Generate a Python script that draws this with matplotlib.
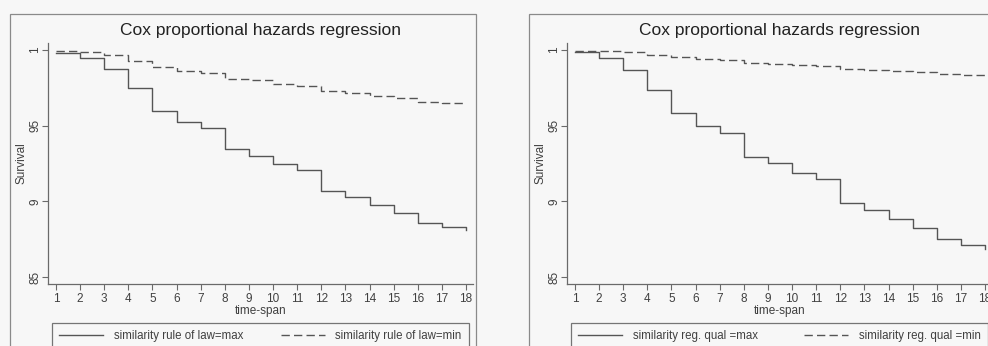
import matplotlib
matplotlib.use("Agg")
import matplotlib.pyplot as plt
from matplotlib.patches import Rectangle

# ---- data ----
time_points = list(range(1, 19))
xtick_labels = [str(t) for t in time_points]
ytick_values = [0.85, 0.9, 0.95, 1.0]
ytick_labels = ["85", "9", "95", "1"]

left_max = [0.9982, 0.9945, 0.9872, 0.9750, 0.9600, 0.9524, 0.9484, 0.9344, 0.9300,
            0.9247, 0.9207, 0.9070, 0.9027, 0.8976, 0.8925, 0.8857, 0.8828, 0.8810]
left_min = [0.9993, 0.9985, 0.9965, 0.9927, 0.9886, 0.9859, 0.9850, 0.9810, 0.9800,
            0.9775, 0.9762, 0.9729, 0.9714, 0.9698, 0.9683, 0.9658, 0.9650, 0.9647]
right_max = [0.9984, 0.9947, 0.9868, 0.9738, 0.9582, 0.9499, 0.9452, 0.9296, 0.9252,
             0.9189, 0.9145, 0.8988, 0.8945, 0.8881, 0.8823, 0.8749, 0.8714, 0.8687]
right_min = [0.9995, 0.9991, 0.9986, 0.9969, 0.9951, 0.9938, 0.9932, 0.9914, 0.9908,
             0.9901, 0.9894, 0.9872, 0.9866, 0.9862, 0.9855, 0.9839, 0.9835, 0.9833]

title = "Cox proportional hazards regression"
xlabel = "time-span"
ylabel = "Survival"
left_labels = ["similarity rule of law=max", "similarity rule of law=min"]
right_labels = ["similarity reg. qual =max", "similarity reg. qual =min"]

# ---- figure ----
W, H = 988, 346
BG = "#f7f7f7"
LINE = "#555555"
AX = "#6a6a6a"
TXT = "#404040"
plt.rcParams["font.family"] = ["Liberation Sans", "DejaVu Sans"]

fig = plt.figure(figsize=(W / 100, H / 100), dpi=100, facecolor=BG)


def fx(px):
    return px / W


def fy(py):
    return 1 - py / H


def panel(frame_left, frame_right, ax_left, ax_right, smax, smin, labels):
    # outer graph frame
    fig.patches.append(Rectangle((fx(frame_left), fy(360)), fx(frame_right - frame_left),
                                 fy(14) - fy(360), transform=fig.transFigure,
                                 fill=False, edgecolor="#8a8a8a", lw=0.9, clip_on=False))
    ax = fig.add_axes([fx(ax_left), fy(284), fx(ax_right - ax_left), fy(43) - fy(284)])
    ax.set_facecolor(BG)
    l1, = ax.step(time_points, smax, where="post", color=LINE, lw=1.0, label=labels[0])
    l2, = ax.step(time_points, smin, where="post", color=LINE, lw=1.0,
                  linestyle=(0, (6, 3)), label=labels[1])
    ax.set_xlim(0.67, 18.29)
    ax.set_ylim(0.8454, 1.0046)
    ax.set_xticks(time_points)
    ax.set_xticklabels(xtick_labels)
    ax.set_yticks(ytick_values)
    ax.set_yticklabels(ytick_labels, rotation=90, va="center")
    for s in ["top", "right"]:
        ax.spines[s].set_visible(False)
    for s in ["left", "bottom"]:
        ax.spines[s].set_color(AX)
        ax.spines[s].set_linewidth(0.9)
    ax.tick_params(axis="both", direction="out", length=4, width=0.8, color=AX,
                   labelsize=8.5, labelcolor=TXT, pad=2.5)
    ax.tick_params(axis="y", pad=1.0)
    ax.set_xlabel(xlabel, fontsize=8.5, color=TXT, labelpad=0)
    ax.set_ylabel(ylabel, fontsize=8.5, color=TXT, labelpad=1)
    ax.set_title(title, fontsize=12.5, color="#222222", pad=5.5)
    leg = ax.legend(handles=[l1, l2], loc="upper left", ncol=2, mode="expand",
                    bbox_to_anchor=(fx(frame_left + 42), fy(323) - 0.2,
                                    fx(417), 0.2),
                    bbox_transform=fig.transFigure, fontsize=8.3, frameon=True,
                    fancybox=False, edgecolor="#555555", handlelength=3.8,
                    handletextpad=0.9, borderpad=0.65, borderaxespad=0)
    leg.get_frame().set_facecolor(BG)
    leg.get_frame().set_linewidth(0.9)
    for t in leg.get_texts():
        t.set_color(TXT)
    return ax


panel(10, 476, 48, 473, left_max, left_min, left_labels)
panel(529, 995, 567, 992, right_max, right_min, right_labels)

fig.savefig("out.png", dpi=100, facecolor=BG)
